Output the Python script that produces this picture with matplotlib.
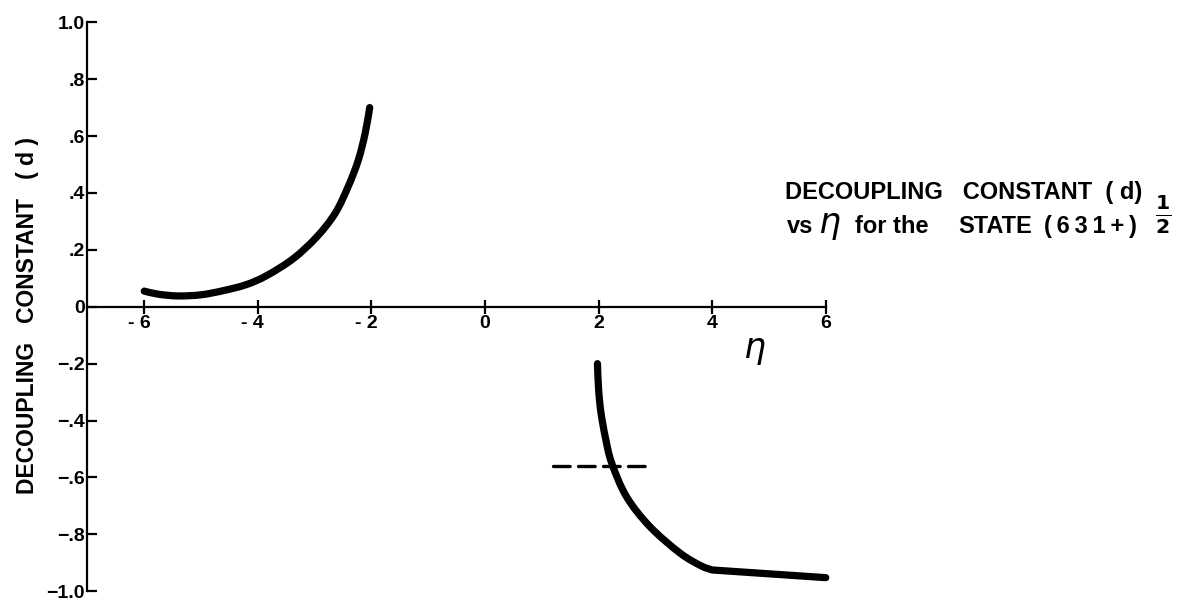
import matplotlib

matplotlib.use("Agg")
import matplotlib.pyplot as plt
from matplotlib.patches import PathPatch
from matplotlib.path import Path

plt.rcParams["font.family"] = ["Liberation Sans", "DejaVu Sans"]
plt.rcParams["mathtext.fontset"] = "dejavusans"

# d(eta) read along the two branches
eta_neg = [-6.0, -5.75, -5.4, -5.0, -4.6, -4.2, -3.84, -3.37, -2.96, -2.64, -2.41, -2.23, -2.11, -2.03]
d_neg = [0.055, 0.044, 0.038, 0.042, 0.057, 0.078, 0.110, 0.170, 0.246, 0.328, 0.422, 0.516, 0.61, 0.70]

# last segment of the positive branch is straight
eta_pos = [1.98, 2.0, 2.04, 2.12, 2.23, 2.49, 2.90, 3.43, 3.8, 4.0, 6.0]
d_pos = [-0.20, -0.29, -0.37, -0.46, -0.549, -0.667, -0.772, -0.865, -0.91, -0.925, -0.952]

# dashed reference level
dash_eta = [1.2, 2.9]
dash_d = [-0.56, -0.56]

x_ticks = [-6, -4, -2, 0, 2, 4, 6]
x_labels = ["- 6  ", "- 4  ", "- 2  ", "0", "2", "4", "6"]
y_ticks = [-1.0, -0.8, -0.6, -0.4, -0.2, 0.0, 0.2, 0.4, 0.6, 0.8, 1.0]
y_labels = ["\u22121.0", "\u2212.8", "\u2212.6", "\u2212.4", "\u2212.2", "0", ".2", ".4", ".6", ".8", "1.0"]


def smooth_path(xs, ys, tail=None):
    """Catmull-Rom through the points, as cubic Bezier segments."""
    pts = list(zip(xs, ys))
    p = [pts[0]] + pts + [pts[-1]]
    verts = [pts[0]]
    codes = [Path.MOVETO]
    for i in range(1, len(p) - 2):
        p0, p1, p2, p3 = p[i - 1], p[i], p[i + 1], p[i + 2]
        c1 = (p1[0] + (p2[0] - p0[0]) / 6, p1[1] + (p2[1] - p0[1]) / 6)
        c2 = (p2[0] - (p3[0] - p1[0]) / 6, p2[1] - (p3[1] - p1[1]) / 6)
        verts += [c1, c2, p2]
        codes += [Path.CURVE4] * 3
    if tail is not None:
        verts.append(tail)
        codes.append(Path.LINETO)
    return Path(verts, codes)


fig = plt.figure(figsize=(11.83, 5.99), dpi=100)
ax = fig.add_axes([0, 0, 1, 1])
ax.set_xlim(-8.54, 12.29)
ax.set_ylim(-1.027, 1.078)
ax.patch.set_visible(False)

curve_kw = dict(fill=False, edgecolor="black", lw=5.2, capstyle="round", joinstyle="round")
ax.add_patch(PathPatch(smooth_path(eta_neg, d_neg), **curve_kw))
ax.add_patch(PathPatch(smooth_path(eta_pos[:-1], d_pos[:-1], tail=(eta_pos[-1], d_pos[-1])), **curve_kw))
ax.plot(dash_eta, dash_d, color="black", lw=2.4, dashes=[5.0, 2.5], dash_capstyle="round")

for side in ("top", "right"):
    ax.spines[side].set_visible(False)
ax.spines["left"].set_position(("data", -7))
ax.spines["left"].set_bounds(-1, 1)
ax.spines["bottom"].set_position(("data", 0))
ax.spines["bottom"].set_bounds(-7, 6)
ax.spines["left"].set_linewidth(1.6)
ax.spines["bottom"].set_linewidth(1.6)

ax.set_xticks(x_ticks)
ax.set_xticklabels(x_labels, fontsize=14, fontweight="bold")
ax.set_yticks(y_ticks)
ax.set_yticklabels(y_labels, fontsize=14, fontweight="bold")
ax.tick_params(axis="y", direction="in", length=7.5, width=1.6, pad=2)
ax.tick_params(axis="x", direction="inout", length=10, width=1.6, pad=1)

ax.text(4.75, -0.152, r"$\eta$", fontsize=25, ha="center", va="center")

fig.text(28 / 1183, 1 - 316 / 599, "DECOUPLING   CONSTANT   ( d )", rotation=90,
         fontsize=16.5, fontweight="bold", ha="center", va="center")

# two-line caption on the right
W, H = 1183, 599
title_kw = dict(fontsize=17, fontweight="bold", ha="left", va="baseline")
fig.text(785 / W, 1 - 199 / H, "DECOUPLING   CONSTANT  ( d)", **title_kw)
fig.text(787 / W, 1 - 233 / H, "vs", **title_kw)
fig.text(829 / W, 1 - 233 / H, r"$\eta$", fontsize=25, ha="center", va="baseline")
fig.text(855 / W, 1 - 233 / H, "for the", **title_kw)
fig.text(958 / W, 1 - 233 / H, "STATE", **title_kw)
fig.text(1044 / W, 1 - 233 / H, "(\u20096\u20093\u20091\u2009+\u2009)", **title_kw)
fig.text(1163 / W, 1 - 215 / H, r"$\frac{\mathbf{1}}{\mathbf{2}}$",
         fontsize=21, ha="center", va="center")

fig.savefig("out.png", dpi=100)
plt.close(fig)
